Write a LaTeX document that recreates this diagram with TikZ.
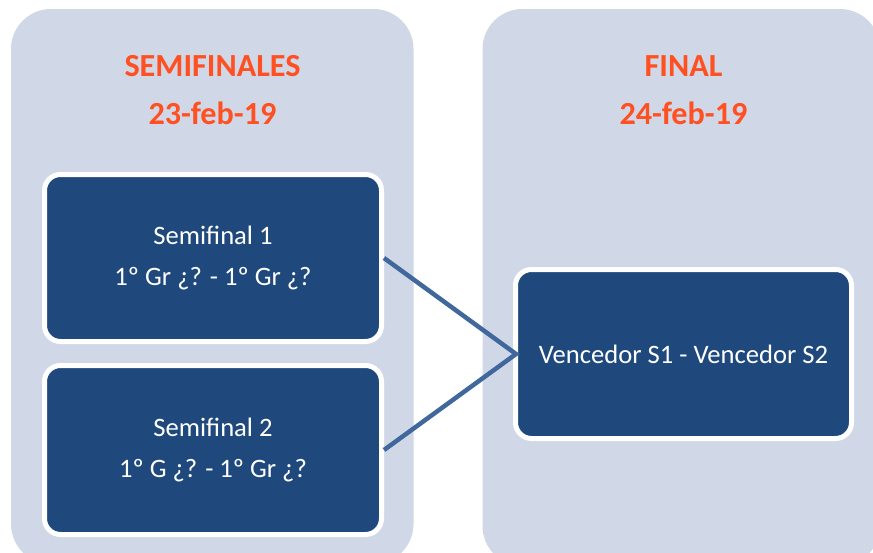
\documentclass[tikz,border=0pt]{standalone}
\usepackage{fontspec}
\setmainfont{Carlito}
\definecolor{panelbg}{HTML}{D0D8E8}
\definecolor{boxblue}{HTML}{1F497D}
\definecolor{headorange}{HTML}{FF5022}
\definecolor{linkblue}{HTML}{41689C}
\tikzset{
  panel/.style={fill=panelbg, rounded corners=40pt},
  heading/.style={text=headorange, font=\fontsize{32.2}{38}\selectfont\bfseries, anchor=base, inner sep=0pt},
  matchbox/.style={fill=boxblue, draw=white, line width=5pt, rounded corners=16pt,
    minimum width=337pt, text=white, align=center, inner sep=0pt,
    font=\fontsize{26.6}{41}\selectfont},
  link/.style={draw=linkblue, line width=4.5pt}
}
\begin{document}
\begin{tikzpicture}[x=1pt,y=-1pt]
\useasboundingbox (0,0) rectangle (873,552);
\clip (0,0) rectangle (873,552);
\fill[panel] (11,9) rectangle (413.5,564);
\fill[panel] (482.5,9) rectangle (880,566);
\node[heading] (h1) at (212.5,76) {SEMIFINALES};
\node[heading] (d1) at (212.5,124) {23-feb-19};
\node[heading] (h2) at (683.5,76) {FINAL};
\node[heading] (d2) at (683.5,124) {24-feb-19};
\node[matchbox, minimum height=167pt] (s1) at (213,258) {Semifinal 1\\1º Gr ¿? - 1º Gr ¿?};
\node[matchbox, minimum height=169pt] (s2) at (213,450) {Semifinal 2\\1º G ¿? - 1º Gr ¿?};
\node[matchbox, minimum width=336pt, minimum height=169pt] (f) at (683.5,354) {Vencedor S1 - Vencedor S2};
\draw[link] (s1.east) -- ([xshift=3pt]f.west) -- (s2.east);
\end{tikzpicture}
\end{document}
